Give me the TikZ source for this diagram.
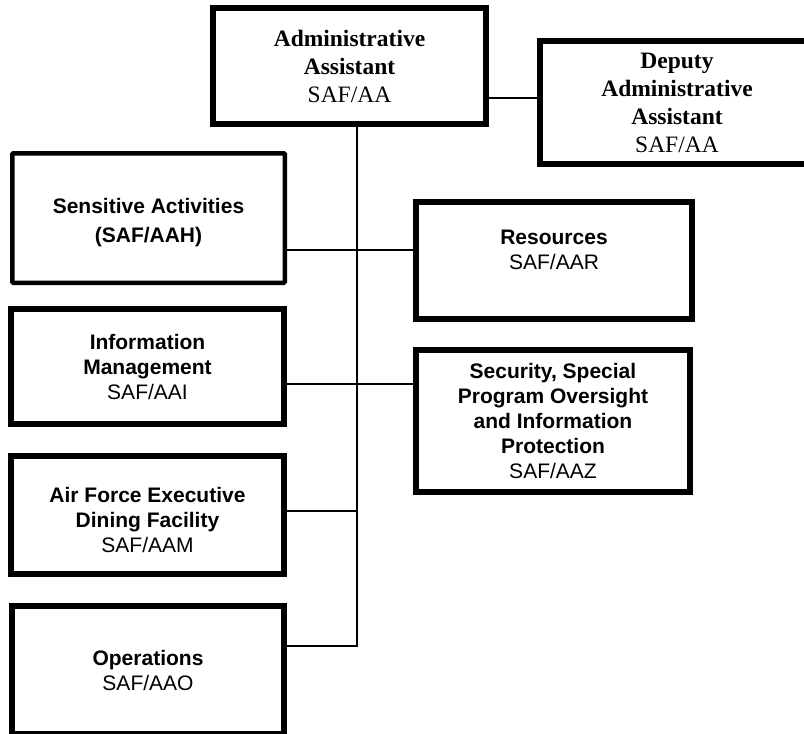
\documentclass[tikz,border=0pt]{standalone}
\usepackage{fontspec}
\setmainfont{Liberation Serif}
\setsansfont{Liberation Sans}

\begin{document}
\begin{tikzpicture}[x=1pt,y=-1pt,
  unit/.style={draw,line width=6pt,align=center,inner sep=0pt,
    font=\sffamily\fontsize{21}{25}\selectfont},
  chief/.style={unit,font=\rmfamily\fontsize{23.5}{28}\selectfont},
  link/.style={line width=2pt}]
\useasboundingbox (0,0) rectangle (804,734);
% Trunk line and the heights of the links
\coordinate (trunk) at (357,0);
\coordinate (rowdep) at (0,98);
\coordinate (rowres) at (0,249.5);
\coordinate (rowsec) at (0,383.5);
\coordinate (rowdine) at (0,511);
\coordinate (rowops) at (0,646);
% Head of the office and deputy
\node [chief,minimum width=273,minimum height=116] (admin) at (349.5,66)
  {\textbf{Administrative}\\\textbf{Assistant}\\SAF/AA};
\node [chief,minimum width=274,minimum height=123] (deputy) at (677,102.5)
  {\textbf{Deputy}\\\textbf{Administrative}\\\textbf{Assistant}\\SAF/AA};
% Units on the left
\node [unit,line width=4.5pt,rounded corners=1pt,minimum width=272.5,minimum height=129.5,
  font=\sffamily\fontsize{21}{29}\selectfont] (sens) at (148.5,218)
  {\mbox{}\\[-5.5pt]\textbf{Sensitive Activities}\\\textbf{(SAF/AAH)}};
\node [unit,minimum width=273,minimum height=115] (info) at (147.5,366.5)
  {\textbf{Information}\\\textbf{Management}\\SAF/AAI};
\node [unit,minimum width=273,minimum height=118] (dine) at (147.5,515)
  {\mbox{}\\\textbf{Air Force Executive}\\\textbf{Dining Facility}\\SAF/AAM};
\node [unit,minimum width=272,minimum height=128] (ops) at (148,670)
  {\textbf{Operations}\\SAF/AAO};
% Units on the right
\node [unit,minimum width=276,minimum height=117] (res) at (554,260.5)
  {\textbf{Resources}\\SAF/AAR\\[-3pt]\mbox{}};
\node [unit,minimum width=274,minimum height=142] (sec) at (553,421)
  {\textbf{Security, Special}\\\textbf{Program Oversight}\\\textbf{and Information}\\\textbf{Protection}\\SAF/AAZ};
% Links
\draw [link] (admin.east |- rowdep) -- (deputy.west |- rowdep);
\draw [link] (admin.south -| trunk) -- (trunk |- rowops) -- (ops.east |- rowops);
\draw [link] (sens.east |- rowres) -- (res.west |- rowres);
\draw [link] (info.east |- rowsec) -- (sec.west |- rowsec);
\draw [link] (dine.east |- rowdine) -- (trunk |- rowdine);
\end{tikzpicture}
\end{document}
